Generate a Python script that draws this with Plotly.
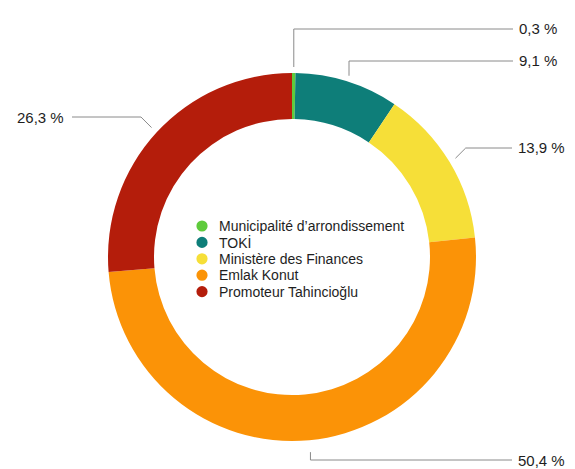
import math
import plotly.graph_objects as go

labels = ["Municipalité d’arrondissement", "TOKİ", "Ministère des Finances", "Emlak Konut", "Promoteur Tahincioğlu"]
values = [0.3, 9.1, 13.9, 50.4, 26.3]
value_texts = ["0,3 %", "9,1 %", "13,9 %", "50,4 %", "26,3 %"]
colors = ["#5fcb3c", "#0e7e79", "#f6df38", "#fb9307", "#b41d0b"]

# page geometry (browser body has an 8px margin)
VIEW_W, VIEW_H, M = 575, 469, 8
W, H = VIEW_W - M, VIEW_H - M
CX, CY, R = 292, 257, 184

# leader line layout (screen pixels)
leader = [
    {"elbow": "v", "y": 29, "end": 513, "side": "right", "r": 190},
    {"elbow": "v", "y": 61, "end": 513, "side": "right", "r": 190},
    {"elbow": "d", "y": 148, "end": 512, "side": "right", "r": 191},
    {"elbow": "v", "y": 460, "end": 512, "side": "right", "r": 196},
    {"elbow": "d", "y": 117, "end": 72, "side": "left", "r": 191},
]

def px(x):
    return (x - M) / W

def py(y):
    return 1 - (y - M) / H

fig = go.Figure()
fig.add_trace(go.Pie(
    labels=labels, values=values, sort=False, direction="clockwise", rotation=0,
    hole=0.75, marker=dict(colors=colors, line=dict(width=0)),
    textinfo="none", hoverinfo="label+percent", showlegend=False,
    domain=dict(x=[px(CX - R), px(CX + R)], y=[py(CY + R), py(CY - R)]),
))

total = sum(values)
cum = 0
shapes = []
annotations = []
for v, t, L in zip(values, value_texts, leader):
    mid = (cum + v / 2) / total * 2 * math.pi
    cum += v
    x0 = CX + L["r"] * math.sin(mid)
    y0 = CY - L["r"] * math.cos(mid)
    ye = L["y"]
    if L["elbow"] == "v":
        x1 = x0
    else:
        dy = abs(ye - y0)
        x1 = x0 + dy if L["side"] == "right" else x0 - dy
    path = f"M {px(x0)} {py(y0)} L {px(x1)} {py(ye)} L {px(L['end'])} {py(ye)}"
    shapes.append(dict(type="path", path=path, xref="paper", yref="paper",
                       line=dict(color="#8a8a8a", width=1)))
    if L["side"] == "right":
        annotations.append(dict(x=px(L["end"] + 4), y=py(ye), xref="paper", yref="paper",
                                text=t, showarrow=False, xanchor="left", yanchor="middle",
                                font=dict(size=15, color="#1e1e1e")))
    else:
        annotations.append(dict(x=px(L["end"] - 6), y=py(ye), xref="paper", yref="paper",
                                text=t, showarrow=False, xanchor="right", yanchor="middle",
                                font=dict(size=15, color="#1e1e1e")))

# legend in the hole (built from labels/colors)
LEG_X_DOT, LEG_X_TXT, LEG_Y0, LEG_DY, DOT_R = 202, 217, 226, 16.4, 5.6
for i, (lab, col) in enumerate(zip(labels, colors)):
    yy = LEG_Y0 + i * LEG_DY
    shapes.append(dict(type="circle", xref="paper", yref="paper",
                       x0=px(LEG_X_DOT - DOT_R), x1=px(LEG_X_DOT + DOT_R),
                       y0=py(yy + DOT_R), y1=py(yy - DOT_R),
                       fillcolor=col, line=dict(width=0)))
    annotations.append(dict(x=px(LEG_X_TXT), y=py(yy), xref="paper", yref="paper",
                            text=lab, showarrow=False, xanchor="left", yanchor="middle",
                            font=dict(size=14, color="#1e1e1e")))

fig.update_layout(
    width=W, height=H,
    margin=dict(l=0, r=0, t=0, b=0),
    paper_bgcolor="white", plot_bgcolor="rgba(0,0,0,0)",
    font=dict(family="Liberation Sans, Arial, sans-serif", color="#1e1e1e"),
    showlegend=False,
    shapes=shapes, annotations=annotations,
)

fig.write_html("out.html")
